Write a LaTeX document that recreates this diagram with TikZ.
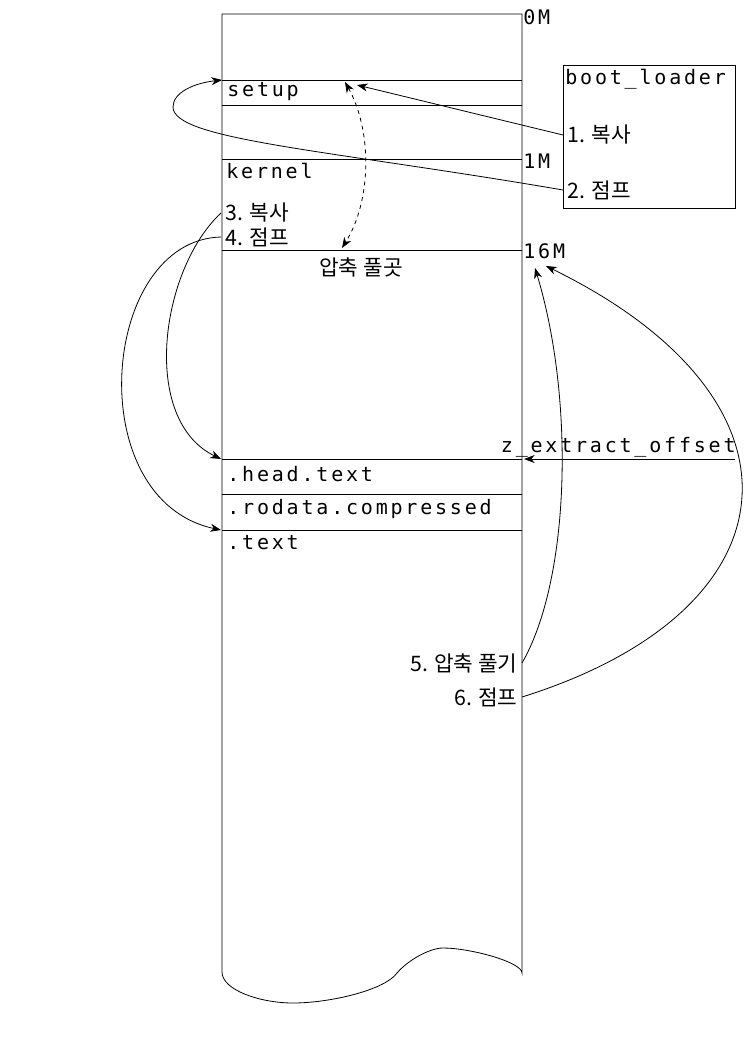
\documentclass[tikz,border=0pt]{standalone}
\usepackage{fontspec}
\setmainfont{Noto Sans CJK KR}
\newfontfamily\memfont[LetterSpace=14]{DejaVu Sans Mono}
\usepackage{tikz}
\usetikzlibrary{arrows.meta,positioning}
\tikzstyle{mem} = [font=\memfont\fontsize{15}{17}\selectfont, inner sep=0pt]
\tikzstyle{hangul} = [font=\fontsize{16}{19}\selectfont, inner xsep=3pt, inner ysep=0pt]
\tikzstyle{arrow} = [->, >={Stealth[length=8pt,width=6pt,inset=2.5pt]}]

\begin{document}
\begin{tikzpicture}[x=0.75pt, y=-0.75pt, line width=0.6pt]
    \useasboundingbox (0,0) rectangle (745,1053);
    % memory column
    \draw (522,14) -- (222,14) -- (222,972) .. controls (222,990) and (260,1003) .. (293,1003)
        .. controls (330,1003) and (385,990) .. (397,973)
        .. controls (408,960) and (430,948) .. (443,948)
        .. controls (470,948) and (522,962) .. (522,973) -- cycle;
    \foreach \y in {80,105,159,250,459,494,530}
        \draw (222,\y) -- (522,\y);
    \node (zero) [mem, anchor=west] at (523,17) {0M};
    \node (one) [mem, anchor=west] at (523,161) {1M};
    \node (sixteen) [mem, anchor=west] at (523,251) {16M};
    \node (setup) [mem, anchor=west] at (227,92) {setup};
    \node (kernel) [mem, anchor=west] at (226,171) {kernel};
    \node (headtext) [mem, anchor=west] at (227,474) {.head.text};
    \node (rodata) [mem, anchor=west] at (227,509) {.rodata.compressed};
    \node (text) [mem, anchor=west] at (227,543) {.text};
    \node (copythree) [hangul, anchor=west] at (221,213) {3. 복사};
    \node (jumpfour) [hangul, anchor=west] at (221,237) {4. 점프};
    \node (dest) [hangul] at (361,267) {압축 풀곳};
    \node (unzipfive) [hangul, anchor=east] at (522,663) {5. 압축 풀기};
    \node (jumpsix) [hangul, anchor=east] at (522,697) {6. 점프};
    % boot loader
    \node (bootbox) [draw, minimum width=129pt, minimum height=107.25pt] at (649,136.5) {};
    \node (loader) [mem, anchor=west] at (565,79) {boot\_loader};
    \node (copyone) [hangul, anchor=west] at (563,135) {1. 복사};
    \node (jumptwo) [hangul, anchor=west] at (563,190) {2. 점프};
    \node (offset) [mem, anchor=east] at (736,447) {z\_extract\_offset};
    % targets
    \coordinate (setupnw) at (222,80);
    \coordinate (setupmark) at (357,85);
    \coordinate (setupmid) at (345,82);
    \coordinate (destmark) at (342,248);
    \coordinate (headnw) at (221,459);
    \coordinate (textnw) at (221,530);
    \coordinate (offsetstart) at (735,459);
    \coordinate (headne) at (524,459);
    \coordinate (sixteena) at (535,268);
    \coordinate (sixteenb) at (546,266);
    % arrows
    \draw [arrow] (copyone.west) -- (setupmark);
    \draw [arrow] (jumptwo.west) .. controls (330,150) and (173,140) .. (173,107)
        .. controls (173,92) and (195,83) .. (setupnw);
    \draw [arrow, <->, dashed] (setupmid) .. controls (372,130) and (372,200) .. (destmark);
    \draw [arrow] (copythree.west) .. controls (160,270) and (140,420) .. (headnw);
    \draw [arrow] (jumpfour.west) .. controls (100,240) and (80,500) .. (textnw);
    \draw [arrow] (offsetstart) -- (headne);
    \draw [arrow] (unzipfive.east) .. controls (570,580) and (575,400) .. (sixteena);
    \draw [arrow] (jumpsix.east) .. controls (800,610) and (820,400) .. (sixteenb);
\end{tikzpicture}
\end{document}
